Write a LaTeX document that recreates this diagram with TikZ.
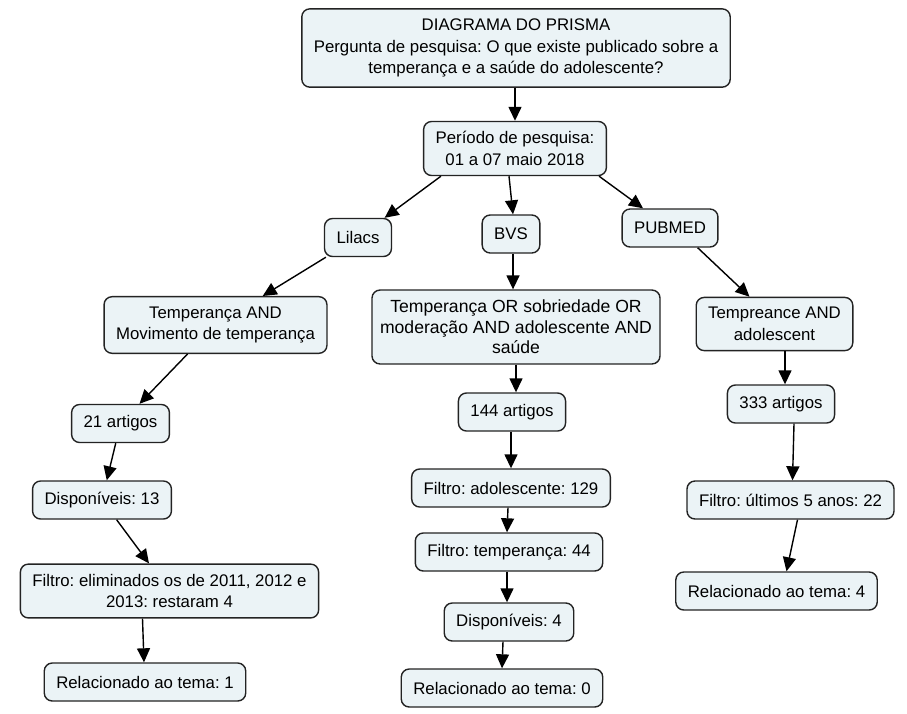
\documentclass[tikz,border=0pt]{standalone}
\usepackage{fontspec}
\setmainfont{Liberation Sans}
\usetikzlibrary{arrows.meta}
\definecolor{fundo}{RGB}{235,243,246}
\definecolor{borda}{RGB}{35,35,35}
\frenchspacing
\begin{document}
\begin{tikzpicture}[x=1pt, y=-1pt,
            caixa/.style={draw=borda, line width=1.4pt, fill=fundo, rounded corners=8pt,
                align=center, inner xsep=12pt, inner ysep=10pt, minimum height=38pt,
                font=\fontsize{16.8}{21.5}\selectfont},
            seta/.style={black, line width=1.4pt, -{Triangle[length=14pt, width=13pt]}}]
            \useasboundingbox (0,0) rectangle (907,713);
            \node[caixa] (titulo) at (516,48) {DIAGRAMA DO PRISMA\\Pergunta de pesquisa: O que existe publicado sobre a\\temperança e a saúde do adolescente?};
            \node[caixa] (periodo) at (515,148.5) {Período de pesquisa:\\01 a 07 maio 2018};
            \node[caixa] (lilacs) at (358,237.5) {Lilacs};
            \node[caixa] (bvs) at (511,234) {BVS};
            \node[caixa] (pubmed) at (670,228) {PUBMED};
            \node[caixa] (lil1) at (215.5,325) {Temperança AND\\Movimento de temperança};
            \node[caixa, font=\fontsize{17.6}{20.5}\selectfont, inner xsep=6pt, minimum width=288pt] (bvs1) at (516,327) {Temperança OR sobriedade OR\\moderação AND adolescente AND\\saúde};
            \node[caixa] (pub1) at (774.5,324) {Tempreance AND\\adolescent};
            \node[caixa] (lil2) at (120.5,423.5) {21 artigos};
            \node[caixa] (bvs2) at (512,412) {144 artigos};
            \node[caixa] (pub2) at (781,404) {333 artigos};
            \node[caixa] (lil3) at (102,500) {Disponíveis: 13};
            \node[caixa] (bvs3) at (511,488) {Filtro: adolescente: 129};
            \node[caixa] (pub3) at (790.5,500) {Filtro: últimos 5 anos: 22};
            \node[caixa] (lil4) at (169.5,591) {Filtro: eliminados os de 2011, 2012 e\\2013: restaram 4};
            \node[caixa] (bvs4) at (509,552) {Filtro: temperança: 44};
            \node[caixa] (pub4) at (776.5,591) {Relacionado ao tema: 4};
            \node[caixa] (bvs5) at (509,622) {Disponíveis: 4};
            \node[caixa] (lil5) at (145,682) {Relacionado ao tema: 1};
            \node[caixa] (bvs6) at (502,688) {Relacionado ao tema: 0};

            \draw[seta] (periodo |- titulo.south) -- (periodo.north);
            \draw[seta] ([xshift=18pt]periodo.south west) -- (lilacs);
            \draw[seta] ([xshift=-2pt]bvs |- periodo.south) -- ([xshift=2pt]bvs.north);
            \draw[seta] ([xshift=-8pt]periodo.south east) -- (pubmed);
            \draw[seta] (lilacs) -- (lil1);
            \draw[seta] ([xshift=2pt]bvs.south) -- ([xshift=-3pt]bvs1.north);
            \draw[seta] ([xshift=-21pt]pubmed.south east) -- ([xshift=-25pt]pub1.north);
            \draw[seta] (lil1) -- (lil2);
            \draw[seta] ([xshift=4pt]bvs2 |- bvs1.south) -- ([xshift=4pt]bvs2.north);
            \draw[seta] ([xshift=4pt]pub2 |- pub1.south) -- ([xshift=4pt]pub2.north);
            \draw[seta] (lil2) -- (lil3);
            \draw[seta] (bvs3 |- bvs2.south) -- (bvs3.north);
            \draw[seta] ([xshift=13pt]pub2.south) -- ([xshift=2pt]pub3.north);
            \draw[seta] (lil3) -- (lil4);
            \draw[seta] ([xshift=-3pt]bvs3.south) -- ([xshift=-2pt]bvs4.north);
            \draw[seta] ([xshift=7pt]pub3.south) -- ([xshift=10pt]pub4.north);
            \draw[seta] ([xshift=-2pt]bvs4.south) -- ([xshift=-2pt]bvs5.north);
            \draw[seta] ([xshift=-27pt]lil4.south) -- ([xshift=-1pt]lil5.north);
            \draw[seta] ([xshift=-6pt]bvs5.south) -- (bvs6.north);
\end{tikzpicture}
\end{document}
